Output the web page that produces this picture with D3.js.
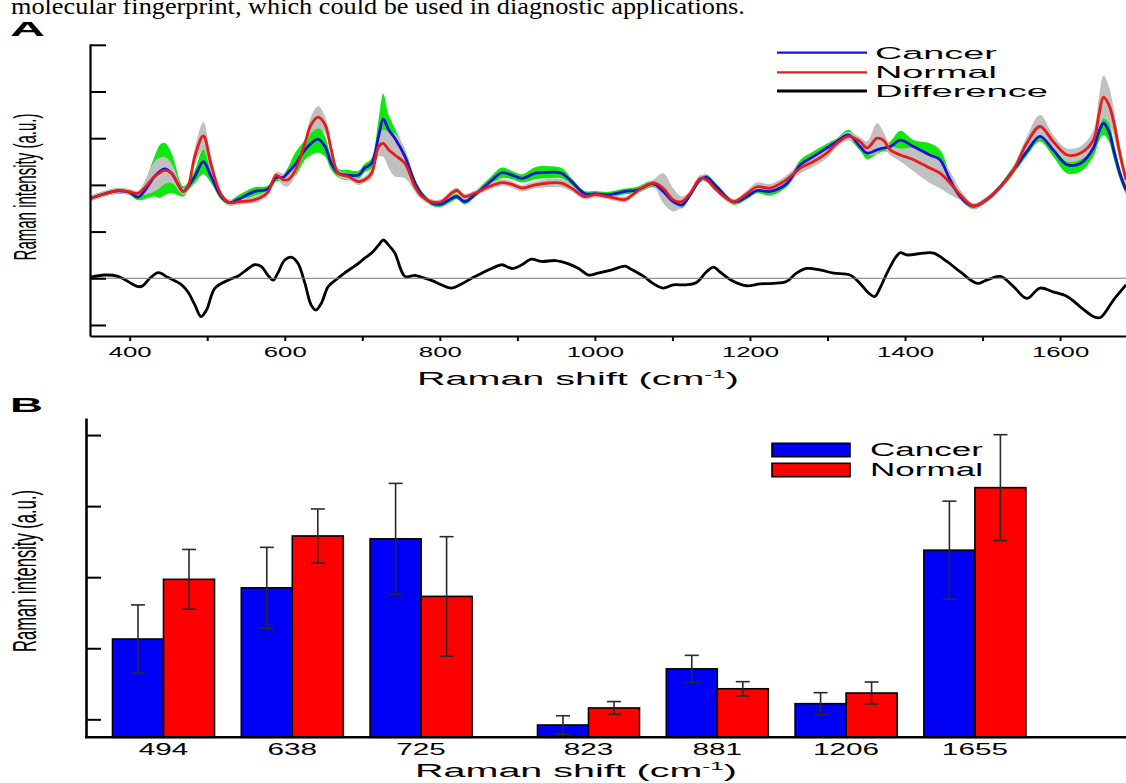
<!DOCTYPE html>
<html>
<head>
<meta charset="utf-8">
<script src="https://cdn.jsdelivr.net/npm/d3@7"></script>
<style>
  html, body { margin: 0; padding: 0; background: #fff; }
  svg { display: block; }
</style>
</head>
<body>
<svg id="fig" width="1126" height="783"></svg>
<script>
// ---------- Panel A: mean spectra (a.u.), shared Raman-shift grid ----------
const spectrumShift = [
  346, 368, 385, 400, 411, 432, 439, 445, 454, 469,
  475, 484, 495, 505, 518, 529, 540, 561, 578, 589,
  598, 604, 613, 626, 634, 643, 652, 660, 669, 682,
  695, 703, 712, 721, 727, 734, 742, 755, 768, 777,
  790, 802, 815, 822, 832, 845, 863, 880, 893, 906,
  923, 940, 957, 970, 987, 1000, 1017, 1039, 1054, 1075,
  1088, 1101, 1112, 1123, 1136, 1144, 1157, 1179, 1196, 1209,
  1226, 1247, 1265, 1282, 1299, 1312, 1327, 1342, 1351, 1364,
  1372, 1381, 1394, 1411, 1432, 1445, 1458, 1471, 1488, 1505,
  1523, 1540, 1557, 1574, 1591, 1609, 1626, 1643, 1650, 1656,
  1663, 1669, 1677, 1685
];
const cancerMean = [
  1.69, 1.81, 1.87, 1.84, 1.74, 2.18, 2.29, 2.34, 2.25, 1.86,
  1.96, 2.18, 2.50, 2.18, 1.75, 1.62, 1.69, 1.86, 1.91, 2.16,
  2.16, 2.26, 2.43, 2.75, 2.89, 2.98, 2.82, 2.46, 2.25, 2.21,
  2.21, 2.36, 2.46, 3.04, 3.41, 3.18, 3.00, 2.61, 2.04, 1.79,
  1.61, 1.59, 1.71, 1.75, 1.64, 1.79, 2.04, 2.26, 2.21, 2.14,
  2.25, 2.27, 2.25, 2.07, 1.81, 1.81, 1.79, 1.86, 1.89, 2.02,
  1.86, 1.64, 1.57, 1.79, 2.12, 2.16, 1.96, 1.63, 1.75, 1.88,
  1.86, 2.02, 2.43, 2.61, 2.79, 2.93, 3.07, 2.82, 2.68, 2.75,
  2.79, 2.82, 2.96, 2.82, 2.64, 2.54, 2.11, 1.75, 1.54, 1.68,
  1.96, 2.32, 2.71, 3.04, 2.75, 2.43, 2.46, 2.79, 3.14, 3.32,
  3.14, 2.75, 2.25, 1.89
];
const cancerSd = [
  0.06, 0.06, 0.06, 0.06, 0.07, 0.43, 0.57, 0.56, 0.43, 0.11,
  0.09, 0.14, 0.27, 0.14, 0.07, 0.06, 0.09, 0.09, 0.07, 0.09,
  0.07, 0.11, 0.25, 0.21, 0.25, 0.29, 0.21, 0.14, 0.09, 0.11,
  0.09, 0.09, 0.11, 0.36, 0.54, 0.32, 0.21, 0.14, 0.09, 0.07,
  0.06, 0.06, 0.07, 0.06, 0.06, 0.06, 0.09, 0.11, 0.09, 0.09,
  0.13, 0.13, 0.11, 0.07, 0.06, 0.06, 0.06, 0.06, 0.07, 0.07,
  0.09, 0.09, 0.07, 0.06, 0.07, 0.06, 0.06, 0.06, 0.06, 0.06,
  0.09, 0.07, 0.11, 0.11, 0.09, 0.07, 0.11, 0.09, 0.13, 0.09,
  0.07, 0.11, 0.20, 0.14, 0.25, 0.21, 0.14, 0.07, 0.06, 0.06,
  0.06, 0.09, 0.09, 0.11, 0.14, 0.18, 0.18, 0.18, 0.21, 0.25,
  0.21, 0.18, 0.13, 0.09
];
const normalMean = [
  1.69, 1.81, 1.88, 1.85, 1.82, 2.18, 2.26, 2.31, 2.25, 1.86,
  1.96, 2.61, 3.05, 2.43, 1.79, 1.62, 1.64, 1.68, 1.84, 2.21,
  2.11, 2.11, 2.29, 2.89, 3.29, 3.45, 3.29, 2.75, 2.25, 2.18,
  2.07, 2.11, 2.25, 2.82, 2.89, 2.75, 2.64, 2.46, 1.96, 1.75,
  1.63, 1.64, 1.82, 1.88, 1.75, 1.82, 1.96, 2.05, 2.01, 1.93,
  2.00, 2.04, 2.04, 1.93, 1.75, 1.79, 1.75, 1.69, 1.86, 2.04,
  1.93, 1.68, 1.64, 1.82, 2.14, 2.11, 1.89, 1.64, 1.81, 1.96,
  1.93, 2.11, 2.36, 2.50, 2.68, 2.89, 3.04, 2.93, 2.79, 3.00,
  2.96, 2.75, 2.64, 2.54, 2.36, 2.25, 2.04, 1.79, 1.55, 1.68,
  1.96, 2.32, 2.89, 3.25, 2.93, 2.64, 2.68, 2.96, 3.50, 3.88,
  3.71, 3.36, 2.68, 2.11
];
const normalSd = [
  0.06, 0.06, 0.06, 0.06, 0.06, 0.32, 0.32, 0.29, 0.21, 0.07,
  0.07, 0.18, 0.29, 0.18, 0.07, 0.06, 0.06, 0.07, 0.07, 0.07,
  0.13, 0.14, 0.11, 0.11, 0.18, 0.24, 0.18, 0.14, 0.07, 0.07,
  0.07, 0.07, 0.11, 0.21, 0.29, 0.39, 0.46, 0.32, 0.11, 0.07,
  0.06, 0.06, 0.07, 0.06, 0.06, 0.06, 0.07, 0.07, 0.07, 0.07,
  0.07, 0.09, 0.09, 0.07, 0.06, 0.06, 0.06, 0.06, 0.06, 0.07,
  0.32, 0.25, 0.11, 0.06, 0.07, 0.06, 0.06, 0.06, 0.07, 0.09,
  0.09, 0.09, 0.11, 0.11, 0.11, 0.09, 0.09, 0.09, 0.14, 0.32,
  0.18, 0.11, 0.14, 0.25, 0.32, 0.32, 0.25, 0.11, 0.06, 0.06,
  0.06, 0.09, 0.14, 0.25, 0.14, 0.14, 0.14, 0.21, 0.36, 0.46,
  0.39, 0.29, 0.18, 0.11
];

// Difference spectrum (cancer - normal), drawn around its own zero line
const diffShift = [
  346, 368, 385, 402, 411, 417, 426, 437, 449, 467,
  475, 484, 492, 499, 510, 527, 540, 553, 561, 570,
  578, 585, 591, 600, 609, 617, 626, 634, 640, 647,
  656, 667, 677, 695, 703, 712, 721, 727, 734, 742,
  755, 768, 777, 790, 802, 815, 828, 841, 854, 867,
  880, 893, 906, 918, 931, 949, 966, 979, 992, 1004,
  1022, 1039, 1045, 1063, 1075, 1088, 1101, 1118, 1131, 1144,
  1153, 1161, 1179, 1196, 1213, 1230, 1247, 1260, 1273, 1290,
  1308, 1329, 1342, 1352, 1361, 1368, 1375, 1381, 1388, 1394,
  1402, 1424, 1437, 1454, 1471, 1493, 1505, 1523, 1540, 1557,
  1574, 1591, 1609, 1626, 1643, 1652, 1669, 1685
];
const diffValue = [
  0.01, 0.07, 0.04, -0.11, -0.18, -0.16, 0.00, 0.12, 0.02, -0.14,
  -0.29, -0.57, -0.82, -0.68, -0.21, -0.04, 0.05, 0.21, 0.29, 0.25,
  0.07, -0.04, 0.11, 0.39, 0.45, 0.32, -0.11, -0.57, -0.68, -0.54,
  -0.18, -0.02, 0.11, 0.32, 0.43, 0.54, 0.71, 0.82, 0.71, 0.54,
  0.04, 0.06, 0.02, -0.05, -0.14, -0.21, -0.12, 0.00, 0.11, 0.21,
  0.29, 0.21, 0.29, 0.41, 0.36, 0.38, 0.31, 0.21, 0.07, 0.11,
  0.18, 0.26, 0.21, 0.04, -0.11, -0.21, -0.14, -0.14, -0.09, 0.14,
  0.24, 0.14, -0.07, -0.16, -0.12, -0.11, -0.07, 0.11, 0.21, 0.18,
  0.11, 0.07, -0.11, -0.30, -0.39, -0.20, 0.05, 0.25, 0.45, 0.55,
  0.50, 0.54, 0.54, 0.36, 0.14, -0.11, -0.04, 0.04, -0.18, -0.43,
  -0.21, -0.29, -0.39, -0.61, -0.82, -0.84, -0.46, -0.14
];
const shiftTicksA = [400, 500, 600, 700, 800, 900, 1000, 1100, 1200, 1300, 1400, 1500, 1600];
const intensityTicksA = [-1, 0, 1, 2, 3, 4, 5];
const legendA = ["Cancer", "Normal", "Difference"];

// ---------- Panel B: band intensities (mean ± SD) ----------
const peakLabels = ["494", "638", "725", "823", "881", "1206", "1655"];
const cancerPeak = [2.13, 2.85, 3.54, 0.92, 1.71, 1.22, 3.38];
const cancerPeakErr = [0.48, 0.57, 0.78, 0.13, 0.19, 0.155, 0.69];
const normalPeak = [2.97, 3.58, 2.73, 1.16, 1.43, 1.37, 4.26];
const normalPeakErr = [0.42, 0.38, 0.84, 0.09, 0.10, 0.155, 0.745];
const intensityTicksB = [1, 2, 3, 4, 5];
const groupsB = ["Cancer", "Normal"];

const caption = "molecular fingerprint, which could be used in diagnostic applications.";

// ---------- drawing ----------
const W = 1126, H = 783;
const SANS = "'Liberation Sans', Arial, Helvetica, sans-serif";
const SERIF = "'Liberation Serif', 'Times New Roman', serif";
const COL = {
  cancer: "#1414d2", normal: "#e41c1c", diff: "#000",
  cancerBand: "#10e610", normalBand: "#c0c0c0",
  barCancer: "#0000f6", barNormal: "#ff0000"
};

const svg = d3.select("#fig");
svg.append("rect").attr("width", W).attr("height", H).attr("fill", "#fff");

// text whose glyphs are widened horizontally to a given overall width
function wideText(parent, parts, o) {
  const t = parent.append("text")
    .attr("font-family", o.family || SANS)
    .attr("font-size", o.size)
    .attr("font-weight", o.weight || "normal")
    .attr("text-anchor", o.anchor || "start")
    .attr("fill", "#000");
  if (typeof parts === "string") t.text(parts);
  else parts.forEach(p => {
    const s = t.append("tspan").text(p.text);
    if (p.size) s.attr("font-size", p.size);
    if (p.dy) s.attr("dy", p.dy);
  });
  const natural = t.node().getComputedTextLength();
  const sx = o.width ? o.width / natural : (o.sx || 1);
  const sy = o.sy || 1;
  t.attr("transform",
    `translate(${o.x},${o.y})` + (o.rotate ? ` rotate(${o.rotate})` : "") + ` scale(${sx},${sy})`);
  return t;
}

// caption line from the surrounding page (its top runs off the sheet)
wideText(svg, caption, { x: 11, y: 14, size: 24, family: SERIF, width: 734 });

// ===== Panel A =====
const A = { left: 90, right: W, top: 44, bottom: 336 };
const xA = d3.scaleLinear().domain([348.8, 1685]).range([A.left, A.right]);
const yA = d3.scaleLinear().domain([-1.236, 5.017]).range([A.bottom, A.top]);

const gA = svg.append("g");
gA.append("defs").append("clipPath").attr("id", "clipA")
  .append("rect").attr("x", A.left).attr("y", 0).attr("width", A.right - A.left).attr("height", A.bottom);

const spec = spectrumShift.map((w, i) => ({
  w, c: cancerMean[i], cs: cancerSd[i], n: normalMean[i], ns: normalSd[i]
}));
const diff = diffShift.map((w, i) => ({ w, v: diffValue[i] }));

const smooth = d3.curveCatmullRom.alpha(0.5);
const plotA = gA.append("g").attr("clip-path", "url(#clipA)");

plotA.append("path").datum(spec).attr("fill", COL.cancerBand)
  .attr("d", d3.area().curve(smooth).x(d => xA(d.w)).y0(d => yA(d.c - d.cs)).y1(d => yA(d.c + d.cs)));
plotA.append("path").datum(spec).attr("fill", COL.normalBand)
  .attr("d", d3.area().curve(smooth).x(d => xA(d.w)).y0(d => yA(d.n - d.ns)).y1(d => yA(d.n + d.ns)));

plotA.append("path").datum(spec).attr("fill", "none").attr("stroke", COL.cancer)
  .attr("stroke-width", 2.8).attr("stroke-linejoin", "round")
  .attr("d", d3.line().curve(smooth).x(d => xA(d.w)).y(d => yA(d.c)));
plotA.append("path").datum(spec).attr("fill", "none").attr("stroke", COL.normal)
  .attr("stroke-width", 2.8).attr("stroke-linejoin", "round")
  .attr("d", d3.line().curve(smooth).x(d => xA(d.w)).y(d => yA(d.n)));

// zero line of the difference spectrum
gA.append("line").attr("x1", A.left).attr("x2", A.right)
  .attr("y1", yA(0)).attr("y2", yA(0)).attr("stroke", "#7a7a7a").attr("stroke-width", 1);

plotA.append("path").datum(diff).attr("fill", "none").attr("stroke", COL.diff)
  .attr("stroke-width", 2.8).attr("stroke-linejoin", "round")
  .attr("d", d3.line().curve(smooth).x(d => xA(d.w)).y(d => yA(d.v)));

// axes
const yAxisA = gA.append("g").attr("transform", `translate(${A.left},0)`)
  .call(d3.axisLeft(yA).tickValues(intensityTicksA).tickSize(-16).tickSizeOuter(0).tickFormat(""));
const xAxisA = gA.append("g").attr("transform", `translate(0,${A.bottom})`)
  .call(d3.axisBottom(xA).tickValues(shiftTicksA).tickSize(5).tickSizeOuter(0).tickPadding(6)
    .tickFormat(d => d % 200 === 0 ? d : ""));
[yAxisA, xAxisA].forEach(ax => {
  ax.select(".domain").attr("stroke", "#000").attr("stroke-width", 2.2);
  ax.selectAll(".tick line").attr("stroke", "#000").attr("stroke-width", 2);
});
xAxisA.selectAll(".tick text")
  .attr("font-family", SANS).attr("font-size", 14).attr("fill", "#000")
  .attr("transform", "scale(1.84,1)");

wideText(gA, [{ text: "Raman shift (cm" }, { text: "-1", size: 11, dy: -7 }, { text: ")", dy: 7 }],
  { x: 578, y: 385, size: 18, anchor: "middle", width: 322 });
wideText(gA, "Raman intensity (a.u.)",
  { x: 36, y: 187, size: 15, anchor: "middle", rotate: -90, width: 147, sy: 2.05 });
wideText(gA, "A", { x: 10, y: 36, size: 20, weight: "bold", width: 35 });

// legend A
const legA = gA.append("g");
const legAColors = [COL.cancer, COL.normal, COL.diff];
const legAY = [52.7, 72.3, 91];
legendA.forEach((name, i) => {
  legA.append("line").attr("x1", 777).attr("x2", 867).attr("y1", legAY[i]).attr("y2", legAY[i])
    .attr("stroke", legAColors[i]).attr("stroke-width", i === 2 ? 2.8 : 2.2);
  wideText(legA, name, { x: 875, y: legAY[i] + 6, size: 16.5, width: [122, 122, 173][i] });
});

// ===== Panel B =====
const B = { left: 86, right: W, top: 418, bottom: 737.3 };
const yB = d3.scaleLinear().domain([0.747, 5.24]).range([B.bottom, B.top]);
const xB = d3.scaleBand().domain(peakLabels).range([112.5, 987.3]).paddingInner(0.208).paddingOuter(0);
const splitAfter = peakLabels.indexOf("725");
const extraGap = 38.6;
const groupLeft = (d, i) => xB(d) + (i > splitAfter ? extraGap : 0);
const xSub = d3.scaleBand().domain(groupsB).range([0, xB.bandwidth()]);

const gB = svg.append("g");
const barsB = peakLabels.flatMap((lab, i) => [
  { lab, i, grp: "Cancer", v: cancerPeak[i], e: cancerPeakErr[i], fill: COL.barCancer },
  { lab, i, grp: "Normal", v: normalPeak[i], e: normalPeakErr[i], fill: COL.barNormal }
]);

gB.selectAll("rect.bar").data(barsB).join("rect").attr("class", "bar")
  .attr("x", d => groupLeft(d.lab, d.i) + xSub(d.grp))
  .attr("width", xSub.bandwidth())
  .attr("y", d => yB(d.v))
  .attr("height", d => yB.range()[0] - yB(d.v))
  .attr("fill", d => d.fill).attr("stroke", "#000").attr("stroke-width", 1.6);

const errG = gB.selectAll("g.err").data(barsB).join("g").attr("class", "err")
  .attr("transform", d => `translate(${groupLeft(d.lab, d.i) + xSub(d.grp) + xSub.bandwidth() / 2},0)`)
  .attr("stroke", "#2a2a2a").attr("stroke-width", 1.6);
errG.append("line").attr("y1", d => yB(d.v - d.e)).attr("y2", d => yB(d.v + d.e));
errG.append("line").attr("x1", -7).attr("x2", 7).attr("y1", d => yB(d.v + d.e)).attr("y2", d => yB(d.v + d.e));
errG.append("line").attr("x1", -7).attr("x2", 7).attr("y1", d => yB(d.v - d.e)).attr("y2", d => yB(d.v - d.e));

const yAxisB = gB.append("g").attr("transform", `translate(${B.left},0)`)
  .call(d3.axisLeft(yB).tickValues(intensityTicksB).tickSize(-15).tickSizeOuter(0).tickFormat(""));
yAxisB.select(".domain").attr("stroke", "#000").attr("stroke-width", 2.6);
yAxisB.selectAll(".tick line").attr("stroke", "#000").attr("stroke-width", 2);
gB.append("line").attr("x1", B.left - 1).attr("x2", B.right)
  .attr("y1", B.bottom).attr("y2", B.bottom).attr("stroke", "#000").attr("stroke-width", 2.6);

peakLabels.forEach((lab, i) => {
  wideText(gB, lab, { x: groupLeft(lab, i) + xB.bandwidth() / 2, y: 755, size: 16.5, anchor: "middle", sx: 1.8 });
});

wideText(gB, [{ text: "Raman shift (cm" }, { text: "-1", size: 11, dy: -7 }, { text: ")", dy: 7 }],
  { x: 576, y: 777, size: 18, anchor: "middle", width: 322 });
wideText(gB, "Raman intensity (a.u.)",
  { x: 36, y: 571, size: 16.6, anchor: "middle", rotate: -90, width: 162, sy: 1.95 });
wideText(gB, "B", { x: 10, y: 411.5, size: 20, weight: "bold", width: 33 });

// legend B
const legB = gB.append("g");
groupsB.forEach((name, i) => {
  const y0 = 443.3 + i * 20;
  legB.append("rect").attr("x", 772).attr("y", y0).attr("width", 78).attr("height", 13.4)
    .attr("fill", i === 0 ? COL.barCancer : COL.barNormal).attr("stroke", "#000").attr("stroke-width", 1.6);
  wideText(legB, name, { x: 870, y: y0 + 13, size: 18, width: 113 });
});
</script>
</body>
</html>
